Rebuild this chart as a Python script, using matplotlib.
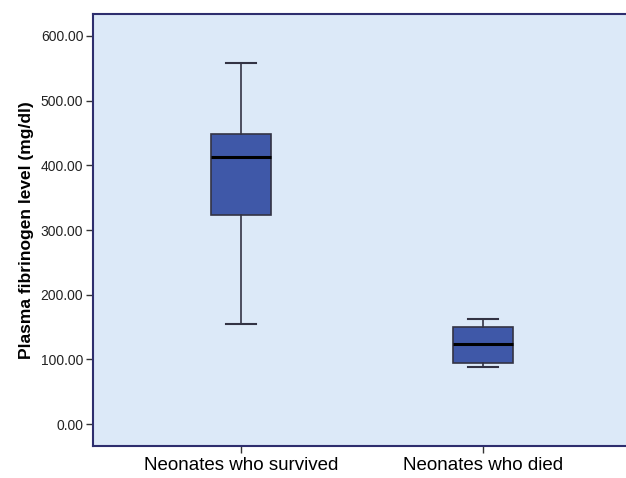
import matplotlib
matplotlib.use("Agg")
import matplotlib.pyplot as plt

plt.rcParams['font.family'] = ['Liberation Sans', 'DejaVu Sans']

groups = ['Neonates who survived', 'Neonates who died']
whisker_low = [155, 88]
q1 = [323, 94]
medians = [413, 124]
q3 = [448, 150]
whisker_high = [558, 162]
yticks = [0, 100, 200, 300, 400, 500, 600]

stats = []
for i, g in enumerate(groups):
    stats.append({'label': g, 'whislo': whisker_low[i], 'q1': q1[i],
                  'med': medians[i], 'q3': q3[i], 'whishi': whisker_high[i],
                  'fliers': []})

fig = plt.figure(figsize=(6.26, 4.78), dpi=100)
ax = fig.add_axes([0.1486, 0.0669, 0.8514, 0.9038])
ax.set_facecolor('#dce9f8')

edge = '#333344'
ax.bxp(stats, positions=[1, 2], widths=0.248, patch_artist=True,
       showfliers=False,
       boxprops=dict(facecolor='#3f58a8', edgecolor=edge, linewidth=1.2),
       medianprops=dict(color='black', linewidth=2.2),
       whiskerprops=dict(color=edge, linewidth=1.2),
       capprops=dict(color=edge, linewidth=1.5),
       capwidths=0.124)

ax.set_xlim(0.388, 2.59)
ax.set_ylim(-34, 634)
ax.set_yticks(yticks)
ax.set_yticklabels(['%.2f' % v for v in yticks], fontsize=10, color='#222222')
ax.set_xticks([1, 2])
ax.set_xticklabels(groups, fontsize=13.5)
ax.tick_params(axis='both', direction='out', length=5, width=1, color='#333333')
ax.tick_params(axis='x', pad=3)
ax.tick_params(axis='y', pad=2)

for s in ['left', 'top', 'bottom']:
    ax.spines[s].set_color('#2e2e6e')
    ax.spines[s].set_linewidth(1.5)
ax.spines['right'].set_visible(False)

ax.set_ylabel('Plasma fibrinogen level (mg/dl)', fontsize=12.5, fontweight='bold', labelpad=5)

fig.savefig('out.png', dpi=100)
